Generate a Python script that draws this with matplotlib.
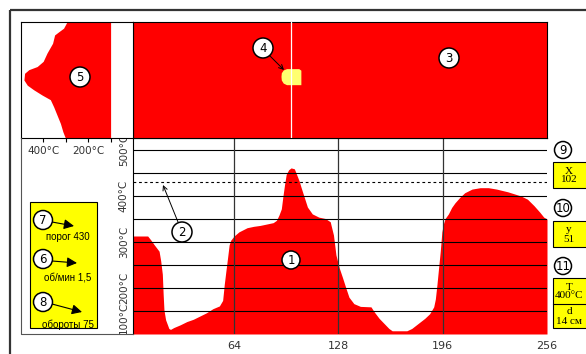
import numpy as np
import matplotlib.pyplot as plt
from matplotlib.patches import Circle, Rectangle, Polygon

W, H = 586, 354
RED = '#ff0000'

# temperature profile along the scan line (x in pixels of the thermogram, t in deg C)
profile_x = [2, 11, 13, 15, 18, 19, 20, 20.5, 21, 22,
             24, 25, 27, 31, 35, 39, 43, 47, 51, 55,
             57, 58, 59, 60, 61, 62, 64, 67, 72, 76,
             80, 84, 88, 90, 91.5, 93, 94, 95, 96, 97.5,
             99, 101, 102, 104, 105, 107, 109, 112, 116, 120,
             123, 125, 126.5, 128.5, 130.5, 132.5, 134.5, 137.5, 141.5, 148,
             150, 153, 156, 159, 161, 170, 173, 177, 181, 184,
             186.5, 187.5, 188.5, 189.5, 190.5, 191.5, 192.5, 193.5, 195.5, 197.5,
             199.5, 202.5, 205.5, 210, 215, 220, 225, 232, 240, 244,
             248, 251.5, 254, 256]
profile_t = [313, 313, 304, 294, 280, 259, 230, 187, 152, 131,
             112, 110, 114, 120, 127, 132, 139, 146, 155, 161,
             173, 208, 237, 265, 294, 304, 313, 322, 331, 334,
             336, 339, 342, 347, 358, 372, 400, 425, 447, 457,
             461, 459, 450, 432, 420, 398, 376, 361, 354, 351,
             344, 315, 272, 244, 223, 201, 180, 166, 160, 159,
             148, 134, 123, 112, 107, 107, 112, 123, 134, 144,
             159, 176, 208, 244, 279, 322, 340, 351, 361, 375,
             385, 397, 407, 415, 418, 418, 415, 409, 400, 393,
             379, 365, 354, 350]

# vertical profile through the hot spot (row of thermogram, t in deg C)
side_rows = [0, 6, 9.5, 12.5, 20.5, 30, 38, 43, 46, 49.5,
             56, 61, 65.5, 70.5, 75, 82, 90, 98, 106, 112]
side_t = [295, 310, 332, 350, 359, 384, 401, 428, 465, 484,
          487, 472, 443, 406, 369, 354, 339, 324, 313, 302]

# hot spot outline on the thermogram
spot_x = [96.5, 104, 105.3, 105.3, 96.5, 94.5, 93.3, 93.1, 93.3, 94.5]
spot_row = [45.5, 45.5, 47, 61, 61, 59.5, 56.5, 53, 49.5, 46.8]

cursor_x = 99
threshold = 430
grid_t = [150, 200, 250, 300, 350, 400, 450, 500]
grid_x = [64, 128, 192]
x_ticks = [64, 128, 192, 256]
x_tick_labels = ['64', '128', '196', '256']
t_ticks = [100, 200, 300, 400, 500]
t_tick_labels = ['100°C', '200°C', '300°C', '400°C', '500°C']
side_ticks = [100, 200, 300, 400]
side_tick_labels = ['', '200°C', '', '400°C']

info_labels = ['порог 430', 'об/мин 1,5', 'обороты 75']
info_numbers = ['7', '6', '8']
cursor_text = ['X\n102', 'y\n51']
spot_text = ['T\n400°C', 'd\n14 см']


def px_axes(fig, x0, y0, x1, y1):
    return fig.add_axes([x0 / W, 1 - y1 / H, (x1 - x0) / W, (y1 - y0) / H])


def badge(ax, x, y, text, r=9.5):
    ax.add_patch(Circle((x, y), r, fc='white', ec='black', lw=1.1, zorder=5))
    ax.text(x, y + 0.5, text, ha='center', va='center', fontsize=8.5, zorder=6)


fig = plt.figure(figsize=(W / 100, H / 100), dpi=100)

# main plot
ax = px_axes(fig, 133, 138, 547, 334)
ax.fill_between(profile_x, profile_t, 100, color=RED, lw=0, zorder=1)
for t in grid_t:
    ax.axhline(t, color='black', lw=0.8, zorder=2)
for x in grid_x:
    ax.axvline(x, color='#333333', lw=0.9, zorder=2)
ax.axhline(threshold, color='black', lw=0.8, ls=(0, (2.5, 2.5)), zorder=3)
ax.set_xlim(2, 256)
ax.set_ylim(107, 526)
ax.set_xticks(x_ticks, x_tick_labels)
ax.set_yticks(t_ticks, t_tick_labels)
ax.tick_params(axis='x', length=0, pad=5, labelsize=8, labelcolor='#333333')
ax.tick_params(axis='y', length=0, pad=3, labelsize=7.5, labelcolor='#333333')
for lbl in ax.get_yticklabels():
    lbl.set_rotation(90)
    lbl.set_va('center')
ax.get_yticklabels()[0].set_va('bottom')
for side in ['right', 'bottom']:
    ax.spines[side].set_visible(False)
ax.spines['left'].set_linewidth(0.8)
ax.spines['top'].set_linewidth(0.8)

# thermogram
ax_top = px_axes(fig, 133, 22, 547, 138)
ax_top.set_facecolor(RED)
ax_top.add_patch(Polygon(list(zip(spot_x, spot_row)), closed=True,
                         fc='#ffff70', ec='none', zorder=2))
ax_top.axvline(cursor_x, color='white', lw=0.9, zorder=3)
ax_top.set_xlim(2, 256)
ax_top.set_ylim(112, 0)
ax_top.set_xticks([])
ax_top.set_yticks([])
for sp in ax_top.spines.values():
    sp.set_linewidth(0.8)

# vertical profile
ax_side = px_axes(fig, 21, 22, 133, 138)
ax_side.fill_betweenx(side_rows, side_t, 100, color=RED, lw=0)
ax_side.set_xlim(500, 0)
ax_side.set_ylim(112, 0)
ax_side.set_xticks(side_ticks, side_tick_labels)
ax_side.set_yticks([])
ax_side.tick_params(axis='x', length=3, width=0.8, pad=3, labelsize=7.5,
                    labelcolor='#333333')
for sp in ax_side.spines.values():
    sp.set_linewidth(0.8)

# overlay for frames, notes and markers
ov = fig.add_axes([0, 0, 1, 1])
ov.set_xlim(0, W)
ov.set_ylim(H, 0)
ov.axis('off')
ov.patch.set_alpha(0)
ov.set_zorder(10)

ov.plot([10, 10], [H, 10], color='#333333', lw=1.6, solid_capstyle='butt')
ov.plot([10, W], [10, 10], color='#333333', lw=1.6, solid_capstyle='butt')
ov.plot([21, 21, 133], [138, 334, 334], color='#555555', lw=0.8)

# left info panel
ov.add_patch(Rectangle((30, 202), 67, 126, fc='#ffff00', ec='black', lw=0.8))
rows_y = [220, 259, 302]
label_y = [237, 277, 325]
arrow_tip = [(74, 226), (77, 263), (82, 312)]
for num, lab, cy, ly, tip in zip(info_numbers, info_labels, rows_y, label_y, arrow_tip):
    badge(ov, 43, cy, num, r=9.5)
    ov.annotate('', xy=tip, xytext=(52, cy + 2),
                arrowprops=dict(arrowstyle='-|>', color='black', lw=0.8,
                                mutation_scale=15, shrinkA=0, shrinkB=0))
    ov.text(68, ly, lab, ha='center', va='center', fontsize=7,
            family='Liberation Sans')

# right info panel
badge(ov, 563, 150, '9', r=8.5)
badge(ov, 563, 208, '10', r=8.5)
badge(ov, 563, 266, '11', r=8.5)
for (y0, y1), txt in zip([(162, 188), (221, 247)], cursor_text):
    ov.add_patch(Rectangle((553, y0), 40, y1 - y0, fc='#ffff00', ec='black', lw=0.8))
    ov.text(569, (y0 + y1) / 2 + 0.5, txt, ha='center', va='center', fontsize=8,
            family='Liberation Serif', linespacing=1.0)
ov.add_patch(Rectangle((553, 278), 40, 50, fc='#ffff00', ec='black', lw=0.8))
ov.plot([553, W], [304, 304], color='black', lw=0.8)
ov.text(569, 291.5, spot_text[0], ha='center', va='center', fontsize=8,
        family='Liberation Serif', linespacing=1.0)
ov.text(569, 316.5, spot_text[1], ha='center', va='center', fontsize=8,
        family='Liberation Serif', linespacing=1.0)

# numbered markers on the plots
badge(ov, 291, 260, '1', r=9)
badge(ov, 182, 232, '2', r=10)
ov.annotate('', xy=(163, 185), xytext=(178, 222),
            arrowprops=dict(arrowstyle='->', color='black', lw=0.7,
                            mutation_scale=8, shrinkA=0, shrinkB=0))
badge(ov, 449, 58, '3', r=10)
badge(ov, 263, 48, '4', r=10)
ov.annotate('', xy=(284, 70), xytext=(269, 55),
            arrowprops=dict(arrowstyle='->', color='black', lw=0.7,
                            mutation_scale=8, shrinkA=0, shrinkB=0))
badge(ov, 80, 77, '5', r=10)

fig.savefig('out.png', dpi=100)
